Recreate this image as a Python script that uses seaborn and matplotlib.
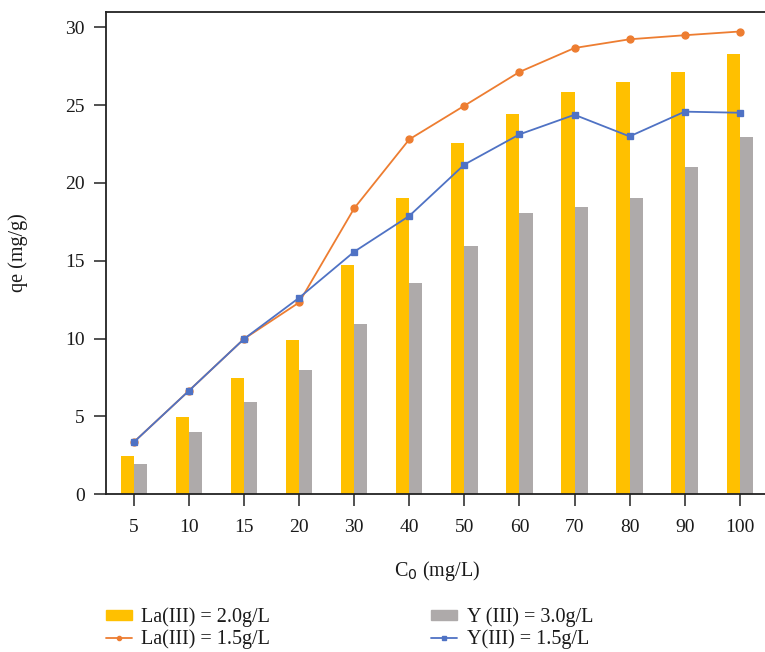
import pandas as pd
import seaborn as sns
import matplotlib.pyplot as plt
from matplotlib.patches import Patch
from matplotlib.lines import Line2D

# values
conc = ["5", "10", "15", "20", "30", "40", "50", "60", "70", "80", "90", "100"]
la_20 = [2.45, 4.96, 7.45, 9.94, 14.75, 19.05, 22.55, 24.45, 25.82, 26.5, 27.15, 28.28]
y_30 = [1.95, 3.99, 5.94, 7.96, 10.95, 13.55, 15.92, 18.1, 18.47, 19.02, 21.0, 22.97]
la_15 = [3.35, 6.65, 9.98, 12.32, 18.37, 22.8, 24.96, 27.13, 28.67, 29.23, 29.49, 29.73]
y_15 = [3.35, 6.65, 9.98, 12.62, 15.58, 17.88, 21.18, 23.12, 24.38, 22.99, 24.58, 24.51]

lab_la20 = "La(III) = 2.0g/L"
lab_y30 = "Y (III) = 3.0g/L"
lab_la15 = "La(III) = 1.5g/L"
lab_y15 = "Y(III) = 1.5g/L"

c_yellow = "#FFC000"
c_gray = "#AEAAAA"
c_orange = "#ED7D31"
c_blue = "#4F72C4"

sns.set_style("ticks")
plt.rcParams["font.family"] = ["Liberation Serif", "DejaVu Serif"]
plt.rcParams["text.color"] = "#1a1a1a"
plt.rcParams["axes.labelcolor"] = "#1a1a1a"
plt.rcParams["xtick.labelcolor"] = "#1a1a1a"
plt.rcParams["ytick.labelcolor"] = "#1a1a1a"

bars = pd.DataFrame({
    "C0": conc * 2,
    "qe": la_20 + y_30,
    "series": [lab_la20] * len(conc) + [lab_y30] * len(conc),
})

fig = plt.figure(figsize=(7.65, 6.52), dpi=100)
ax = fig.add_axes([0.139, 0.242, 0.864, 0.740])

sns.barplot(data=bars, x="C0", y="qe", hue="series", order=conc,
            palette=[c_yellow, c_gray], width=0.48, linewidth=0,
            saturation=1, legend=False, ax=ax)
sns.pointplot(x=conc, y=la_15, order=conc, color=c_orange, markers="o",
              markersize=5, linewidth=1.3, ax=ax)
sns.pointplot(x=conc, y=y_15, order=conc, color=c_blue, markers="s",
              markersize=5, linewidth=1.3, ax=ax)

ax.set_xlim(-0.5, 11.5)
ax.set_ylim(0, 31)
ax.set_yticks([0, 5, 10, 15, 20, 25, 30])
ax.tick_params(axis="both", direction="out", length=8.5, width=1.2,
               labelsize=14, color="#333333")
ax.tick_params(axis="x", pad=9)
ax.tick_params(axis="y", pad=7)
for s in ax.spines.values():
    s.set_linewidth(1.3)
    s.set_color("#222222")

ax.set_xlabel("C$_0$ (mg/L)", fontsize=14.5, labelpad=17)
ax.set_ylabel("qe (mg/g)", fontsize=14.5, labelpad=27)

handles = [
    Patch(color=c_yellow, label=lab_la20),
    Line2D([], [], color=c_orange, marker="o", markersize=3, lw=1.3, label=lab_la15),
    Patch(color=c_gray, label=lab_y30),
    Line2D([], [], color=c_blue, marker="s", markersize=3, lw=1.3, label=lab_y15),
]
fig.legend(handles=handles, loc="upper left", bbox_to_anchor=(0.1386, 0.068),
           ncol=2, frameon=False, fontsize=14.5, columnspacing=8.0,
           handlelength=1.3, handleheight=0.35, labelspacing=0.08,
           handletextpad=0.45, borderaxespad=0, borderpad=0)

fig.savefig("out.png", dpi=100)
